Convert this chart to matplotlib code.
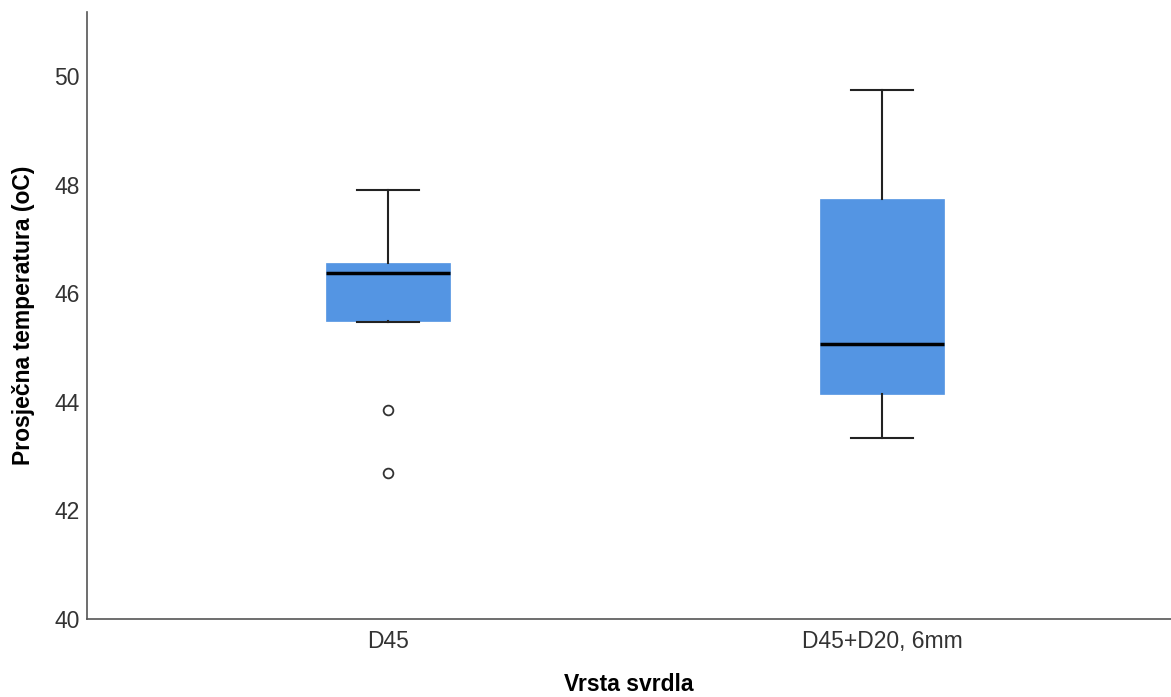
import matplotlib
matplotlib.use("Agg")
import matplotlib.pyplot as plt

# box plot values
categories = ["D45", "D45+D20, 6mm"]
whisker_low = [45.47, 43.33]
q1 = [45.49, 44.14]
medians = [46.37, 45.06]
q3 = [46.56, 47.73]
whisker_high = [47.90, 49.74]
outliers = [[43.85, 42.69], []]

plt.rcParams['font.family'] = ['Liberation Sans', 'DejaVu Sans']

stats = []
for i, name in enumerate(categories):
    stats.append(dict(label=name, whislo=whisker_low[i], q1=q1[i], med=medians[i],
                      q3=q3[i], whishi=whisker_high[i], fliers=outliers[i]))

fig = plt.figure(figsize=(11.71, 6.97), dpi=100)
ax = fig.add_axes([87/1171, 1-619/697, 1-87/1171, (619-12)/697])

ax.bxp(stats, positions=[1, 2], widths=0.25, patch_artist=True, showcaps=True,
       boxprops=dict(facecolor='#5495e3', edgecolor='#5495e3', linewidth=0.5),
       medianprops=dict(color='black', linewidth=2.5),
       whiskerprops=dict(color='#222222', linewidth=1.5),
       capprops=dict(color='#222222', linewidth=1.5),
       capwidths=0.125,
       flierprops=dict(marker='o', markersize=7, markerfacecolor='white',
                       markeredgecolor='#333333', markeredgewidth=1.3))

ax.set_xlim(0.391, 2.585)
ax.set_ylim(40, 51.18)
ax.set_yticks([40, 42, 44, 46, 48, 50])
for s in ['top', 'right']:
    ax.spines[s].set_visible(False)
for s in ['left', 'bottom']:
    ax.spines[s].set_color('#555555')
    ax.spines[s].set_linewidth(1.2)
ax.tick_params(axis='both', length=0, labelsize=16.5, labelcolor='#333333')
ax.tick_params(axis='y', pad=5)
ax.tick_params(axis='x', pad=8)
ax.set_ylabel('Prosječna temperatura (oC)', fontsize=16.5, fontweight='bold', labelpad=14)
ax.set_xlabel('Vrsta svrdla', fontsize=16.5, fontweight='bold', labelpad=14)

fig.savefig('out.png', dpi=100)
